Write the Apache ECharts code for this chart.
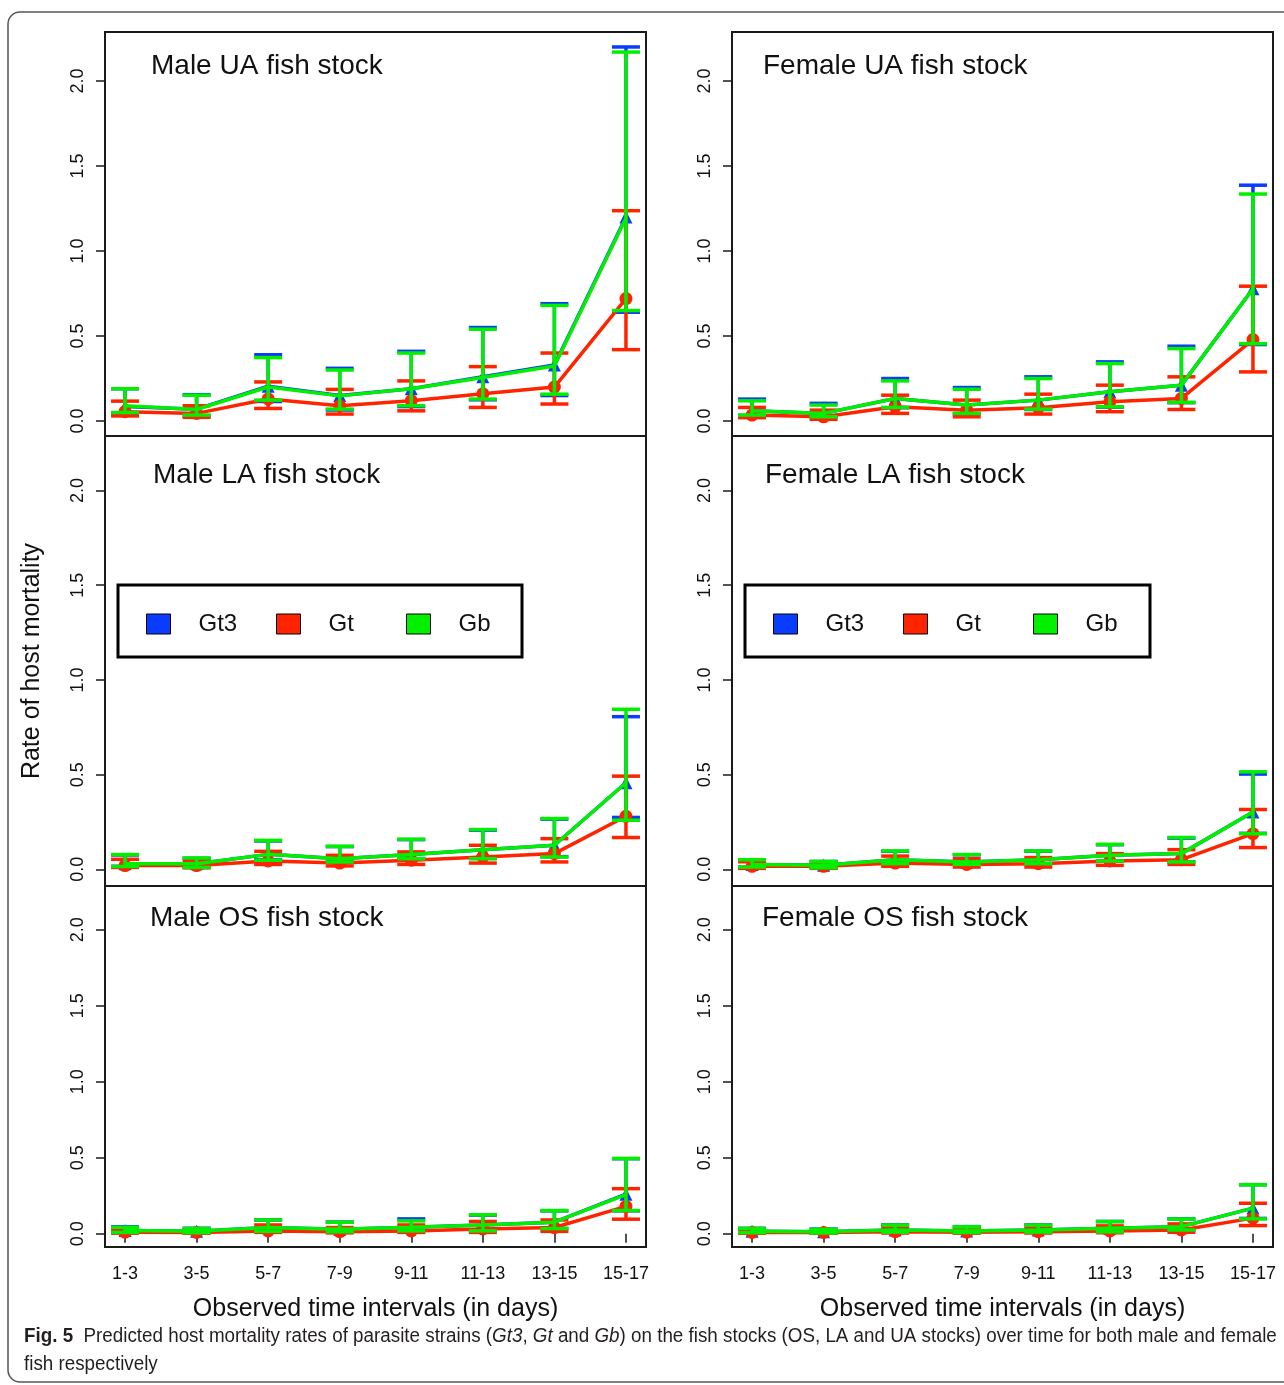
<!DOCTYPE html>
<html>
<head>
<meta charset="utf-8">
<script src="https://cdn.jsdelivr.net/npm/echarts@6/dist/echarts.min.js"></script>
<style>
  html, body { margin: 0; padding: 0; background: #fff; }
  #chart { width: 1284px; height: 1385px; }
</style>
</head>
<body>
<div id="chart"></div>
<script>
// time intervals on the x axis
const categories = ['1-3', '3-5', '5-7', '7-9', '9-11', '11-13', '13-15', '15-17'];
const yTicks = [0, 0.5, 1.0, 1.5, 2.0];

// Male UA
const mUA_Gt3 = [0.085, 0.07, 0.205, 0.15, 0.19, 0.26, 0.33, 1.20];
const mUA_Gt3_lo = [0.045, 0.03, 0.115, 0.065, 0.085, 0.125, 0.15, 0.64];
const mUA_Gt3_hi = [0.19, 0.155, 0.39, 0.31, 0.41, 0.55, 0.69, 2.20];
const mUA_Gt = [0.055, 0.045, 0.13, 0.09, 0.12, 0.16, 0.20, 0.72];
const mUA_Gt_lo = [0.03, 0.022, 0.074, 0.041, 0.06, 0.08, 0.10, 0.42];
const mUA_Gt_hi = [0.117, 0.09, 0.23, 0.186, 0.236, 0.32, 0.40, 1.237];
const mUA_Gb = [0.09, 0.068, 0.20, 0.148, 0.19, 0.256, 0.324, 1.194];
const mUA_Gb_lo = [0.05, 0.035, 0.123, 0.07, 0.09, 0.129, 0.158, 0.65];
const mUA_Gb_hi = [0.19, 0.152, 0.373, 0.30, 0.40, 0.54, 0.68, 2.17];

// Female UA
const fUA_Gt3 = [0.06, 0.045, 0.133, 0.094, 0.123, 0.172, 0.211, 0.778];
const fUA_Gt3_lo = [0.033, 0.023, 0.078, 0.043, 0.068, 0.082, 0.108, 0.45];
const fUA_Gt3_hi = [0.129, 0.104, 0.25, 0.197, 0.26, 0.348, 0.44, 1.387];
const fUA_Gt = [0.035, 0.025, 0.084, 0.064, 0.078, 0.113, 0.133, 0.479];
const fUA_Gt_lo = [0.02, 0.01, 0.045, 0.025, 0.041, 0.055, 0.068, 0.289];
const fUA_Gt_hi = [0.08, 0.064, 0.152, 0.123, 0.158, 0.211, 0.26, 0.793];
const fUA_Gb = [0.06, 0.045, 0.133, 0.094, 0.123, 0.172, 0.211, 0.778];
const fUA_Gb_lo = [0.035, 0.025, 0.08, 0.045, 0.07, 0.084, 0.11, 0.455];
const fUA_Gb_hi = [0.119, 0.094, 0.236, 0.187, 0.25, 0.338, 0.426, 1.335];

// Male LA
const mLA_Gt3 = [0.03, 0.03, 0.079, 0.056, 0.078, 0.104, 0.127, 0.457];
const mLA_Gt3_lo = [0.016, 0.012, 0.05, 0.04, 0.057, 0.058, 0.067, 0.274];
const mLA_Gt3_hi = [0.076, 0.058, 0.15, 0.12, 0.157, 0.207, 0.265, 0.806];
const mLA_Gt = [0.02, 0.02, 0.044, 0.033, 0.048, 0.065, 0.083, 0.28];
const mLA_Gt_lo = [0.01, 0.008, 0.026, 0.018, 0.026, 0.033, 0.039, 0.168];
const mLA_Gt_hi = [0.053, 0.044, 0.095, 0.074, 0.092, 0.127, 0.162, 0.492];
const mLA_Gb = [0.03, 0.03, 0.079, 0.056, 0.078, 0.104, 0.127, 0.457];
const mLA_Gb_lo = [0.015, 0.01, 0.048, 0.039, 0.056, 0.056, 0.065, 0.259];
const mLA_Gb_hi = [0.078, 0.06, 0.153, 0.122, 0.159, 0.21, 0.268, 0.845];

// Female LA
const fLA_Gt3 = [0.026, 0.021, 0.051, 0.039, 0.051, 0.074, 0.083, 0.303];
const fLA_Gt3_lo = [0.012, 0.008, 0.03, 0.026, 0.03, 0.044, 0.04, 0.19];
const fLA_Gt3_hi = [0.05, 0.041, 0.095, 0.077, 0.096, 0.13, 0.165, 0.503];
const fLA_Gt = [0.016, 0.016, 0.033, 0.026, 0.03, 0.044, 0.051, 0.188];
const fLA_Gt_lo = [0.005, 0.005, 0.016, 0.012, 0.012, 0.021, 0.026, 0.115];
const fLA_Gt_hi = [0.04, 0.033, 0.07, 0.056, 0.062, 0.083, 0.104, 0.316];
const fLA_Gb = [0.026, 0.021, 0.051, 0.039, 0.051, 0.074, 0.083, 0.303];
const fLA_Gb_lo = [0.012, 0.008, 0.03, 0.026, 0.03, 0.044, 0.039, 0.188];
const fLA_Gb_hi = [0.051, 0.042, 0.097, 0.078, 0.097, 0.132, 0.168, 0.515];

// Male OS
const mOS_Gt3 = [0.02, 0.015, 0.04, 0.029, 0.042, 0.057, 0.075, 0.26];
const mOS_Gt3_lo = [0.008, 0.006, 0.016, 0.012, 0.018, 0.02, 0.034, 0.15];
const mOS_Gt3_hi = [0.045, 0.035, 0.09, 0.076, 0.097, 0.122, 0.15, 0.493];
const mOS_Gt = [0.009, 0.008, 0.018, 0.013, 0.018, 0.031, 0.04, 0.179];
const mOS_Gt_lo = [0.003, 0.002, 0.008, 0.005, 0.008, 0.008, 0.015, 0.095];
const mOS_Gt_hi = [0.025, 0.02, 0.057, 0.04, 0.057, 0.08, 0.09, 0.296];
const mOS_Gb = [0.02, 0.015, 0.04, 0.029, 0.042, 0.057, 0.075, 0.256];
const mOS_Gb_lo = [0.008, 0.006, 0.015, 0.012, 0.018, 0.018, 0.033, 0.152];
const mOS_Gb_hi = [0.042, 0.034, 0.09, 0.075, 0.084, 0.124, 0.152, 0.495];

// Female OS
const fOS_Gt3 = [0.015, 0.012, 0.024, 0.018, 0.024, 0.035, 0.046, 0.168];
const fOS_Gt3_lo = [0.006, 0.004, 0.01, 0.007, 0.01, 0.012, 0.024, 0.1];
const fOS_Gt3_hi = [0.035, 0.03, 0.057, 0.046, 0.057, 0.08, 0.097, 0.322];
const fOS_Gt = [0.008, 0.008, 0.013, 0.009, 0.013, 0.018, 0.024, 0.102];
const fOS_Gt_lo = [0.002, 0.002, 0.004, 0.003, 0.004, 0.006, 0.009, 0.053];
const fOS_Gt_hi = [0.02, 0.018, 0.035, 0.03, 0.035, 0.051, 0.064, 0.2];
const fOS_Gb = [0.015, 0.012, 0.024, 0.018, 0.024, 0.035, 0.046, 0.168];
const fOS_Gb_lo = [0.006, 0.004, 0.01, 0.007, 0.01, 0.012, 0.024, 0.097];
const fOS_Gb_hi = [0.034, 0.029, 0.056, 0.045, 0.056, 0.079, 0.096, 0.322];

const panels = [
  { title: 'Male UA fish stock',   s: [[mUA_Gt3, mUA_Gt3_lo, mUA_Gt3_hi], [mUA_Gt, mUA_Gt_lo, mUA_Gt_hi], [mUA_Gb, mUA_Gb_lo, mUA_Gb_hi]] },
  { title: 'Female UA fish stock', s: [[fUA_Gt3, fUA_Gt3_lo, fUA_Gt3_hi], [fUA_Gt, fUA_Gt_lo, fUA_Gt_hi], [fUA_Gb, fUA_Gb_lo, fUA_Gb_hi]] },
  { title: 'Male LA fish stock',   s: [[mLA_Gt3, mLA_Gt3_lo, mLA_Gt3_hi], [mLA_Gt, mLA_Gt_lo, mLA_Gt_hi], [mLA_Gb, mLA_Gb_lo, mLA_Gb_hi]] },
  { title: 'Female LA fish stock', s: [[fLA_Gt3, fLA_Gt3_lo, fLA_Gt3_hi], [fLA_Gt, fLA_Gt_lo, fLA_Gt_hi], [fLA_Gb, fLA_Gb_lo, fLA_Gb_hi]] },
  { title: 'Male OS fish stock',   s: [[mOS_Gt3, mOS_Gt3_lo, mOS_Gt3_hi], [mOS_Gt, mOS_Gt_lo, mOS_Gt_hi], [mOS_Gb, mOS_Gb_lo, mOS_Gb_hi]] },
  { title: 'Female OS fish stock', s: [[fOS_Gt3, fOS_Gt3_lo, fOS_Gt3_hi], [fOS_Gt, fOS_Gt_lo, fOS_Gt_hi], [fOS_Gb, fOS_Gb_lo, fOS_Gb_hi]] },
];

const strains = ['Gt3', 'Gt', 'Gb'];
const colors = ['#0a3cff', '#ff2400', '#00f000'];
const symbols = ['triangle', 'circle', 'none'];

const FONT = '"Liberation Sans", Arial, sans-serif';
const colLeft = [105, 732];
const rowTop = [32, 436, 886];
const rowH = [404, 450, 361];
const titleTop = [52, 461, 904];
const titleLeft = [[151, 763], [153, 765], [150, 762]];
const W = 541;
const legendBox = [118, 745];

// error bar renderer
function renderErr(params, api) {
  const x = api.value(0);
  const lo = api.coord([x, api.value(1)]);
  const hi = api.coord([x, api.value(2)]);
  const half = 14;
  const style = { stroke: api.visual('color'), lineWidth: 3.5 };
  return {
    type: 'group',
    children: [
      { type: 'line', shape: { x1: lo[0], y1: lo[1], x2: hi[0], y2: hi[1] }, style: style },
      { type: 'line', shape: { x1: lo[0] - half, y1: lo[1], x2: lo[0] + half, y2: lo[1] }, style: style },
      { type: 'line', shape: { x1: hi[0] - half, y1: hi[1], x2: hi[0] + half, y2: hi[1] }, style: style }
    ]
  };
}

const grid = [], xAxis = [], yAxis = [], series = [], title = [];
panels.forEach(function (p, i) {
  const row = Math.floor(i / 2), col = i % 2;
  const bottomRow = row === 2;
  grid.push({
    left: colLeft[col], top: rowTop[row], width: W, height: rowH[row],
    show: true, borderColor: '#1a1a1a', borderWidth: 2, backgroundColor: 'transparent'
  });
  xAxis.push({
    type: 'value', gridIndex: i, min: 0.72, max: 8.28,
    splitLine: { show: false },
    axisLine: { show: false },
    axisTick: { show: bottomRow, length: 9, lineStyle: { color: '#1a1a1a', width: 1.5 },
      customValues: [1, 2, 3, 4, 5, 6, 7, 8] },
    axisLabel: { show: bottomRow, margin: 18, fontSize: 18, fontFamily: FONT, color: '#111',
      customValues: [1, 2, 3, 4, 5, 6, 7, 8],
      formatter: function (v) { return categories[Math.round(v) - 1]; } },
    name: bottomRow ? 'Observed time intervals (in days)' : '',
    nameLocation: 'middle', nameGap: 50,
    nameTextStyle: { fontSize: 25, fontFamily: FONT, color: '#111' }
  });
  yAxis.push({
    type: 'value', gridIndex: i, min: -0.088, max: 2.288,
    splitLine: { show: false },
    axisLine: { show: false },
    axisTick: { show: true, length: 9, lineStyle: { color: '#1a1a1a', width: 1.5 }, customValues: yTicks },
    axisLabel: { rotate: 90, margin: 18, fontSize: 18, fontFamily: FONT, color: '#111',
      customValues: yTicks, formatter: function (v) { return v.toFixed(1); } },
    name: i === 2 ? 'Rate of host mortality' : '',
    nameLocation: 'middle', nameGap: 60, nameRotate: 90,
    nameTextStyle: { fontSize: 25, fontFamily: FONT, color: '#111' }
  });
  title.push({
    text: p.title, left: titleLeft[row][col], top: titleTop[row], padding: 0,
    textStyle: { fontSize: 28, fontWeight: 'normal', fontFamily: FONT, color: '#111' }
  });
  p.s.forEach(function (d, k) {
    const mean = d[0], lo = d[1], hi = d[2];
    series.push({
      type: 'custom', name: strains[k], xAxisIndex: i, yAxisIndex: i,
      itemStyle: { color: colors[k] },
      renderItem: renderErr,
      encode: { x: 0, y: [1, 2] },
      data: categories.map(function (c, j) { return [j + 1, lo[j], hi[j]]; }),
      clip: false, z: 2 + k
    });
    series.push({
      type: 'line', name: strains[k], xAxisIndex: i, yAxisIndex: i,
      data: categories.map(function (c, j) { return [j + 1, mean[j]]; }),
      symbol: symbols[k], symbolSize: 13,
      itemStyle: { color: colors[k] },
      lineStyle: { color: colors[k], width: 3.5 },
      z: 2 + k
    });
  });
});

// one legend entry per strain so each sits at its own spot inside the boxed legend
const legend = [];
legendBox.forEach(function (bx) {
  strains.forEach(function (s, k) {
    legend.push({
      left: bx + 28 + k * 130, top: 612, padding: 0,
      data: [{ name: s, itemStyle: { color: colors[k] } }],
      icon: 'rect', itemWidth: 24, itemHeight: 20,
      itemStyle: { borderColor: '#000', borderWidth: 1 },
      selectedMode: false,
      textStyle: { fontSize: 24, fontFamily: FONT, color: '#111', padding: [0, 0, 0, 23] }
    });
  });
});

const CAP_FONT = '"Liberation Sans", sans-serif';
const chart = echarts.init(document.getElementById('chart'));
chart.setOption({
  animation: false,
  backgroundColor: '#fff',
  title: title,
  legend: legend,
  grid: grid,
  xAxis: xAxis,
  yAxis: yAxis,
  series: series,
  graphic: [
    { type: 'rect', shape: { x: 8, y: 12, width: 1300, height: 1370, r: 12 },
      style: { fill: 'none', stroke: '#555', lineWidth: 1.5 }, silent: true },
    { type: 'rect', shape: { x: legendBox[0], y: 585, width: 404, height: 72 },
      style: { fill: 'none', stroke: '#000', lineWidth: 3 }, silent: true },
    { type: 'rect', shape: { x: legendBox[1], y: 585, width: 405, height: 72 },
      style: { fill: 'none', stroke: '#000', lineWidth: 3 }, silent: true },
    { type: 'text', x: 24, y: 1326, scaleX: 0.94,
      style: {
        text: '{b|Fig. 5}  Predicted host mortality rates of parasite strains ({i|Gt3}, {i|Gt} and {i|Gb}) on the fish stocks (OS, LA and UA stocks) over time for both male and female',
        font: '20px ' + CAP_FONT, fill: '#231f20',
        rich: {
          b: { fontWeight: 'bold', fontSize: 20, fontFamily: CAP_FONT, fill: '#231f20' },
          i: { fontStyle: 'italic', fontSize: 20, fontFamily: CAP_FONT, fill: '#231f20' }
        }
      } },
    { type: 'text', x: 24, y: 1354, scaleX: 0.94,
      style: { text: 'fish respectively', font: '20px ' + CAP_FONT, fill: '#231f20' } }
  ]
});
</script>
</body>
</html>
